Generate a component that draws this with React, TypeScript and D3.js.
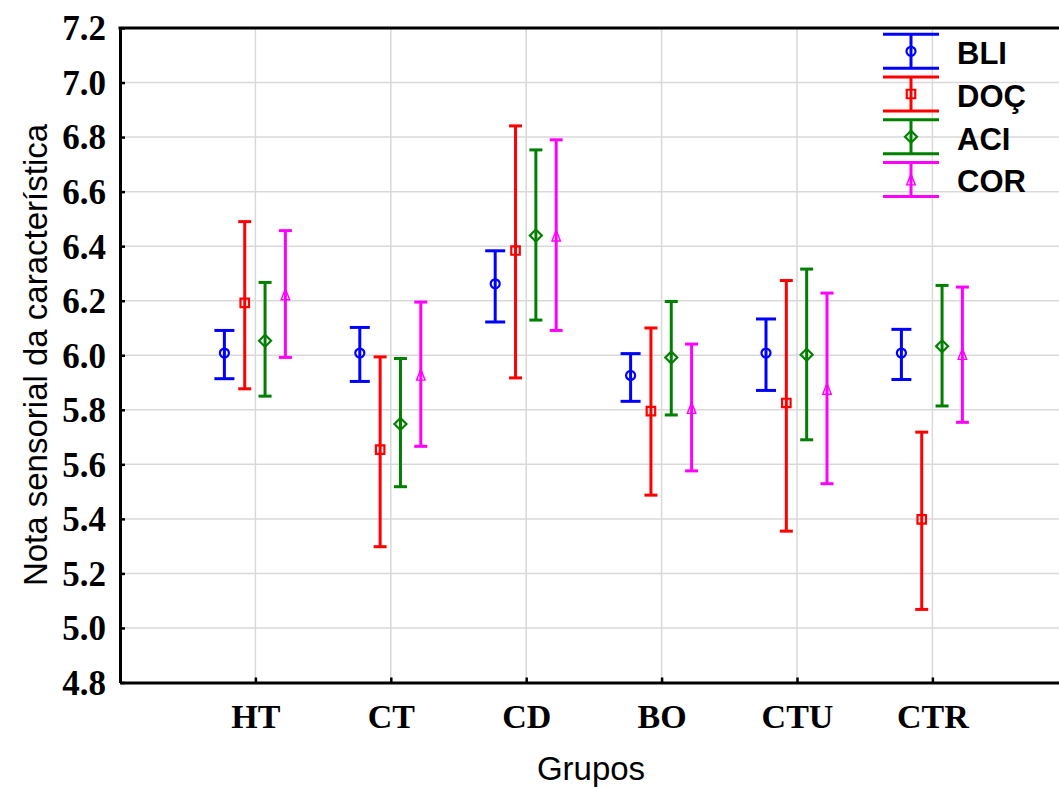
import React, { useEffect, useRef } from 'react'
import * as d3 from 'd3'

// groups on the x axis
const groups = ['HT', 'CT', 'CD', 'BO', 'CTU', 'CTR']
const seriesNames = ['BLI', 'DOÇ', 'ACI', 'COR']
const seriesColors = ['#0000ff', '#ff0000', '#008000', '#ff00ff']
const yTicks = [4.8, 5.0, 5.2, 5.4, 5.6, 5.8, 6.0, 6.2, 6.4, 6.6, 6.8, 7.0, 7.2]

// means and interval ends
const bliMean = [6.008, 6.008, 6.262, 5.926, 6.008, 6.008]
const bliHigh = [6.091, 6.102, 6.383, 6.006, 6.133, 6.095]
const bliLow = [5.914, 5.904, 6.122, 5.831, 5.871, 5.911]

const docMean = [6.192, 5.654, 6.384, 5.795, 5.825, 5.398]
const docHigh = [6.49, 5.994, 6.841, 6.1, 6.274, 5.718]
const docLow = [5.877, 5.298, 5.917, 5.487, 5.355, 5.068]

const aciMean = [6.053, 5.748, 6.439, 5.992, 6.002, 6.033]
const aciHigh = [6.267, 5.988, 6.753, 6.197, 6.316, 6.256]
const aciLow = [5.85, 5.518, 6.129, 5.781, 5.69, 5.814]

const corMean = [6.224, 5.929, 6.439, 5.807, 5.877, 6.005]
const corHigh = [6.457, 6.195, 6.79, 6.041, 6.228, 6.25]
const corLow = [5.992, 5.666, 6.091, 5.576, 5.529, 5.754]

const W = 1059
const H = 787
const serif = '"Liberation Serif", "Times New Roman", serif'
const sans = '"Liberation Sans", Arial, sans-serif'

// tall triangle, as in the original marker
const tallTriangle = {
  draw(ctx: any, size: number) {
    const w = Math.sqrt(size) / 2
    const h = w * 1.3
    ctx.moveTo(0, -h)
    ctx.lineTo(w, h)
    ctx.lineTo(-w, h)
    ctx.closePath()
  },
}
const diamond = {
  draw(ctx: any, size: number) {
    const r = Math.sqrt(size) / 2
    ctx.moveTo(0, -r)
    ctx.lineTo(r, 0)
    ctx.lineTo(0, r)
    ctx.lineTo(-r, 0)
    ctx.closePath()
  },
}
const markerTypes: any[] = [d3.symbolCircle, d3.symbolSquare, diamond, tallTriangle]
const markerSizes = [64, 72, 144, 72]
const markerStroke = [2.2, 2.2, 2.2, 1.4]
const capHalf = [10, 6.5, 6.5, 6.5]

export default function App() {
  const svgRef = useRef<SVGSVGElement>(null)

  useEffect(() => {
    const svg = d3.select(svgRef.current)
    svg.selectAll('*').remove()

    const left = 120
    const top = 28
    const bottom = 682.5
    const step = 135.4

    const x = d3.scaleLinear().domain([0, 7]).range([left, left + 7 * step])
    const y = d3.scaleLinear().domain([4.8, 7.2]).range([bottom, top])
    const offset = d3.scalePoint<string>().domain(seriesNames).range([-31, 30])

    const series = [
      { mean: bliMean, high: bliHigh, low: bliLow },
      { mean: docMean, high: docHigh, low: docLow },
      { mean: aciMean, high: aciHigh, low: aciLow },
      { mean: corMean, high: corHigh, low: corLow },
    ]

    // grid
    const grid = svg.append('g').attr('stroke', '#d9d9d9').attr('stroke-width', 1.5)
    grid.selectAll('line.hg')
      .data(yTicks.slice(1, -1))
      .join('line')
      .attr('class', 'hg')
      .attr('x1', left).attr('x2', W)
      .attr('y1', d => y(d)).attr('y2', d => y(d))
    grid.selectAll('line.vg')
      .data(groups)
      .join('line')
      .attr('class', 'vg')
      .attr('x1', (d, i) => x(i + 1)).attr('x2', (d, i) => x(i + 1))
      .attr('y1', top).attr('y2', bottom)

    // error bars
    series.forEach((s, si) => {
      const color = seriesColors[si]
      const g = svg.append('g').attr('stroke', color).attr('fill', 'none')
      groups.forEach((grp, gi) => {
        const cx = x(gi + 1) + (offset(seriesNames[si]) as number)
        g.append('line')
          .attr('x1', cx).attr('x2', cx)
          .attr('y1', y(s.low[gi])).attr('y2', y(s.high[gi]))
          .attr('stroke-width', 3)
        ;[s.low[gi], s.high[gi]].forEach(v => {
          g.append('line')
            .attr('x1', cx - capHalf[si]).attr('x2', cx + capHalf[si])
            .attr('y1', y(v)).attr('y2', y(v))
            .attr('stroke-width', 3)
        })
        g.append('path')
          .attr('d', d3.symbol().type(markerTypes[si]).size(markerSizes[si])())
          .attr('transform', `translate(${cx},${y(s.mean[gi])})`)
          .attr('fill', 'none')
          .attr('stroke-width', markerStroke[si])
      })
    })

    // axes
    const yAxis = d3.axisLeft(y).tickValues(yTicks).tickSize(-5).tickSizeOuter(0).tickPadding(14)
      .tickFormat(d => d3.format('.1f')(d as number))
    const ya = svg.append('g').attr('transform', `translate(${left},0)`).call(yAxis)
    ya.select('.domain').attr('stroke', '#000').attr('stroke-width', 3)
    ya.selectAll('.tick line').attr('stroke', '#000').attr('stroke-width', 2.5)
    ya.selectAll('.tick text')
      .attr('font-family', serif).attr('font-weight', 'bold').attr('font-size', 35)
      .attr('fill', '#000').attr('dy', '0.34em')

    const xAxis = d3.axisBottom(x).tickValues([1, 2, 3, 4, 5, 6]).tickSize(-5).tickSizeOuter(0).tickPadding(21)
      .tickFormat(d => groups[(d as number) - 1])
    const xa = svg.append('g').attr('transform', `translate(0,${bottom})`).call(xAxis)
    xa.select('.domain').attr('stroke', '#000').attr('stroke-width', 3)
    xa.selectAll('.tick line').attr('stroke', '#000').attr('stroke-width', 2.5)
    xa.selectAll('.tick text')
      .attr('font-family', serif).attr('font-weight', 'bold').attr('font-size', 34).attr('fill', '#000')

    svg.append('line')
      .attr('x1', left - 1.5).attr('x2', W)
      .attr('y1', top).attr('y2', top)
      .attr('stroke', '#000').attr('stroke-width', 3)

    // titles
    svg.append('text')
      .attr('transform', `translate(47,355) rotate(-90)`)
      .attr('text-anchor', 'middle')
      .attr('font-family', sans).attr('font-size', 33)
      .text('Nota sensorial da característica')
    svg.append('text')
      .attr('x', 591).attr('y', 780)
      .attr('text-anchor', 'middle')
      .attr('font-family', sans).attr('font-size', 33)
      .text('Grupos')

    // legend
    const legendY = d3.scaleLinear().domain([0, 3]).range([51.3, 179.4])
    const lg = svg.append('g')
    seriesNames.forEach((name, i) => {
      const cy = legendY(i)
      const row = lg.append('g').attr('stroke', seriesColors[i]).attr('fill', 'none').attr('stroke-width', 3)
      row.append('line').attr('x1', 911).attr('x2', 911).attr('y1', cy - 17).attr('y2', cy + 17)
      row.append('line').attr('x1', 883).attr('x2', 939).attr('y1', cy - 17).attr('y2', cy - 17)
      row.append('line').attr('x1', 883).attr('x2', 939).attr('y1', cy + 17).attr('y2', cy + 17)
      row.append('path')
        .attr('d', d3.symbol().type(markerTypes[i]).size(markerSizes[i])())
        .attr('transform', `translate(911,${cy})`)
        .attr('fill', 'none')
        .attr('stroke-width', markerStroke[i])
      lg.append('text')
        .attr('x', 957).attr('y', cy + 13)
        .attr('font-family', sans).attr('font-weight', 'bold').attr('font-size', 31)
        .text(name)
    })
  }, [])

  return (
    <svg
      ref={svgRef}
      width={W}
      height={H}
      style={{ position: 'absolute', left: 0, top: 0, display: 'block', background: '#fff' }}
    />
  )
}
